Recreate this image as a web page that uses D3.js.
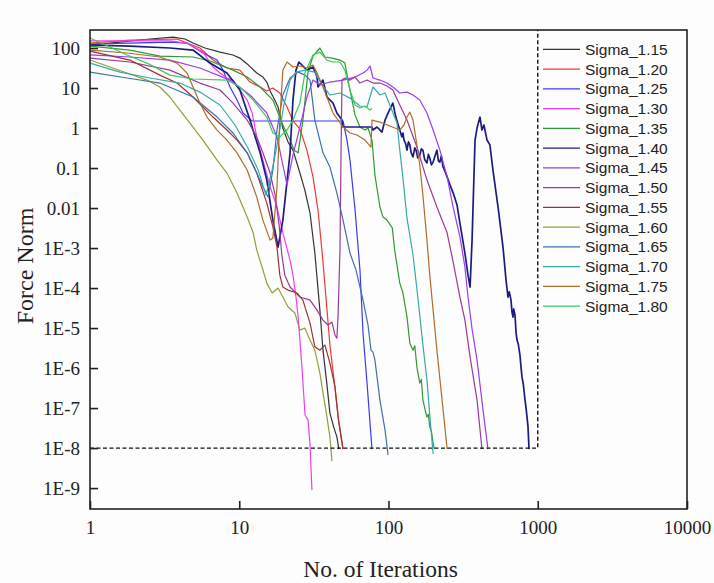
<!DOCTYPE html>
<html><head><meta charset="utf-8">
<script src="https://cdn.jsdelivr.net/npm/d3@7"></script>
<style>
html,body{margin:0;padding:0;background:#fdfdfd;}
svg{display:block;}
</style></head><body>
<svg id="chart" width="714" height="583"></svg>
<script>
// Convergence histories: [iteration, force norm]
const sigmaLabels = ["Sigma_1.15","Sigma_1.20","Sigma_1.25","Sigma_1.30","Sigma_1.35","Sigma_1.40","Sigma_1.45",
  "Sigma_1.50","Sigma_1.55","Sigma_1.60","Sigma_1.65","Sigma_1.70","Sigma_1.75","Sigma_1.80"];

const s115 = [[1,119],[1.59,141],[2.52,168],[3.6,188],[4.33,168],[4.9,133],[5.89,100],[7.43,79],[9.07,67],[10.1,56],
  [11.3,40],[13.1,23.7],[14.4,18.8],[15.3,14.1],[16.1,8.4],[17.3,5.0],[18.2,3.35],[19.6,1.0],[21.2,0.45],[22.9,0.28],
  [25.5,0.075],[27.5,0.028],[29.8,0.0075],[32.1,7.5e-4],[34.7,2.8e-5],[36.4,2.8e-6],[38.7,3.8e-7],[40.5,7.5e-8],
  [43.1,3.2e-8],[45.1,1.9e-8],[46.5,9.4e-9]];
const s120 = [[1,133],[1.85,158],[3.83,168],[5.45,100],[6.67,50],[8.27,31.6],[10.1,28],[11.8,14.1],[13.8,10.6],
  [15.3,8.4],[16.8,10],[18.7,7.5],[20.9,3.35],[22.9,1.5],[25.5,0.94],[28.4,0.28],[31.2,0.06],[33.7,0.0089],
  [35.8,8.9e-4],[37.5,1.2e-4],[40.5,3.8e-6],[43.8,3.2e-7],[46.5,4.5e-8],[49.5,9.4e-9]];
const s125 = [[1,126],[1.85,133],[3.43,141],[4.47,133],[5.71,75],[7.1,50],[7.78,28],[8.67,10.6],[9.66,5.0],[10.6,2.37],
  [12.2,1.5],[25.5,1.5],[49.6,1.5],[52.7,0.5],[55.2,0.158],[59.7,0.0089],[64.4,2.8e-4],[67.5,7.5e-6],[71.8,4.2e-7],
  [75.2,4.2e-8],[77.5,9.4e-9]];
const s130 = [[1,150],[1.85,150],[3.43,150],[4.47,133],[5.71,79],[6.67,33.5],[7.43,23.7],[8.27,17.8],[9.08,15.8],
  [10.1,8.9],[11.3,5.0],[12.2,2.37],[13.1,0.6],[14.4,0.158],[16.1,0.034],[17.9,0.0106],[19.6,2.4e-3],[21.9,5e-4],
  [22.9,2.1e-4],[24.0,6e-5],[24.8,1.9e-5],[26.3,1.06e-6],[27.6,6.7e-8],[28.9,5e-8],[29.8,1.19e-8],[30.7,8.9e-10]];
const s135 = [[1,112],[1.85,89],[2.94,63],[4.9,59.6],[6.36,47.3],[9.08,28],[11.3,18.8],[13.8,10.6],[16.8,5.0],
  [19.6,1.19],[21.9,0.5],[23.3,0.28],[24.8,0.24],[26.7,1.58],[28.9,25],[31.2,63],[34.7,100],[37.5,59.6],[41.8,56],
  [47.3,50],[51,42],[55.2,8.9],[59.7,2.1],[64.4,1.06],[69.6,0.89],[72.9,1.0],[77.5,0.5],[81.1,0.067],[87.6,0.0106],
  [91.8,6e-3],[97.7,5e-3],[106,3.2e-3],[110,8.9e-4],[119,1.33e-4],[125,7.5e-5],[133,1.9e-5],[139,4.2e-6],
  [146,2.8e-6],[150,3.6e-6],[155,1.06e-6],[162,4.2e-7],[166,5.2e-7],[170,1.58e-7],[176,9e-8],[181,5.96e-8],
  [185,7e-8],[189,3.4e-8],[194,2.6e-8],[199,1.33e-8],[203,9.4e-9]];
const s140 = [[1,119],[1.85,112],[3.43,100],[4.9,89],[6.36,42],[8.27,23.7],[10.1,8.9],[11.8,1.58],[13.8,0.24],
  [15.3,0.05],[16.8,0.005],[18.2,1.05e-3],[19.6,0.005],[21.9,0.24],[22.9,5.0],[24.0,28],[25.1,44.7],[26.7,35.5],
  [28.4,28],[31.2,33.5],[33.2,18.8],[33.7,10.6],[36.4,15.8],[38.7,5.96],[42.5,4.2],[45.1,2.37],[48.8,1.58],
  [49.6,1.06],[77.5,1.06],[78.7,0.89],[83.7,1.06],[90.4,0.79],[94.8,1.58],[100,2.5],[107,4.2],[112,1.88],
  [119,0.89],[123,0.6],[125,0.75],[127,0.5],[130,0.42],[133,0.28],[136,0.45],[139,0.38],[142,0.24],[146,0.19],
  [150,0.32],[153,0.28],[157,0.18],[162,0.21],[166,0.3],[170,0.28],[175,0.16],[181,0.134],[185,0.22],[189,0.178],
  [194,0.12],[199,0.141],[205,0.2],[211,0.28],[216,0.15],[221,0.141],[226,0.2],[232,0.106],[240,0.08],[247,0.06],
  [258,0.038],[271,0.024],[288,0.0119],[301,4.2e-3],[325,7.5e-4],[341,2.1e-4],[352,1.06e-4],[363,1.58e-3],
  [380,0.5],[392,1.0],[410,1.88],[423,0.89],[436,1.19],[457,0.5],[478,0.38],[501,0.089],[542,0.0106],
  [585,1.06e-3],[613,1.58e-4],[622,1e-4],[632,5.96e-5],[645,8e-5],[662,5e-5],[672,2.5e-5],[683,1.88e-5],
  [690,3e-5],[704,2.1e-5],[715,8e-6],[726,5e-6],[740,4e-6],[760,2.1e-6],[770,1.2e-6],[784,6e-7],[800,4e-7],
  [822,1.58e-7],[835,1e-7],[847,6e-8],[860,3.5e-8],[874,9.4e-9]];
const s145 = [[1,67],[1.85,59.6],[3.43,50],[5.45,31.6],[8.67,15.8],[11.8,6.7],[15.3,2.37],[17.9,0.6],[19.6,0.119],
  [20.9,0.038],[22.9,0.21],[25.5,1.06],[28.4,5.96],[31.2,15.8],[34.7,11.9],[40.5,14.1],[49.6,15.8],[59.7,18.8],
  [67.5,23.7],[71.8,28],[75.2,35.5],[78.7,17.8],[87.6,15.8],[97.7,13.3],[107,10.6],[119,7.5],[133,7.9],[146,6.7],
  [162,5.0],[181,2.37],[199,0.89],[221,0.28],[247,0.06],[271,0.0106],[301,1.9e-3],[325,3.4e-4],[341,5.96e-5],
  [363,9.4e-6],[392,1.58e-6],[430,8.9e-8],[464,9.4e-9]];
const s150 = [[1,56],[1.85,44.7],[3.43,28],[5.45,13.3],[7.43,8.9],[9.08,4.2],[11.3,1.58],[13.1,0.6],[14.4,0.24],
  [16.1,0.075],[17.4,0.021],[18.5,3.7e-3],[19.3,6.7e-4],[20.2,2.1e-4],[21.9,1.06e-4],[25.5,5.96e-5],[29.8,5e-5],
  [33.2,2.8e-5],[36.4,1.58e-5],[39.3,1.19e-5],[41.8,1.41e-5],[43.8,6.7e-6],[45.1,5.6e-6],[45.9,1.88e-5],
  [47.3,8.9e-4],[48.1,0.28],[48.8,15.8],[51,17.8],[55.2,15.8],[59.7,18.8],[64.4,13.3],[71.8,15.8],[78.7,13.3],
  [87.6,13.3],[97.7,11.2],[107,8.9],[119,3.76],[133,1.58],[155,0.335],[181,0.05],[211,0.0106],[247,2.4e-3],
  [271,4.5e-4],[301,5.96e-5],[325,1.58e-5],[352,1.9e-6],[392,1.58e-7],[423,9.4e-9]];
const s155 = [[1,84],[1.85,50],[2.94,21],[3.83,13.3],[4.9,5.96],[5.71,3.35],[6.67,1.88],[8.27,0.89],[9.66,0.5],
  [11.3,0.24],[13.1,0.075],[15.3,0.0133],[16.8,3.4e-3],[17.9,1.06e-3],[18.7,2.1e-4],[19.6,1.06e-4],[21.2,8.9e-5],
  [24.4,7.5e-5],[26.7,5e-5],[29.8,1.33e-5],[32.1,3.4e-6],[34.7,2.8e-6],[37.5,3.76e-6],[40.5,1.33e-6],
  [43.8,3.4e-7],[45.9,5.96e-8],[49.6,9.4e-9]];
const s160 = [[1,50],[1.77,23.7],[2.41,15.8],[2.94,10.6],[3.43,5.96],[4.0,2.8],[4.9,1.06],[5.71,0.5],[7.1,0.158],
  [8.27,0.075],[9.66,0.0237],[11.3,6e-3],[12.4,2.4e-3],[13.1,8.9e-4],[14.2,3.4e-4],[15.3,1.33e-4],[16.6,7.5e-5],
  [18.2,1.0e-4],[19.6,5.96e-5],[21.2,3.4e-5],[23.6,2.37e-5],[25.5,8.9e-6],[27.5,1.0e-5],[29.8,5e-6],[32.1,2.8e-6],
  [34.7,7.5e-7],[36.4,2.4e-7],[38.7,5.96e-8],[40.5,1.9e-8],[41.8,4.7e-9]];
const s165 = [[1,25],[1.77,17.8],[2.94,13.3],[4.9,5.96],[7.1,1.88],[9.08,0.75],[11.3,0.24],[13.1,0.075],[14.4,0.034],
  [15.6,0.0188],[16.8,0.089],[17.9,0.89],[19.6,6.7],[21.9,17.8],[24.8,25],[27.6,21],[29.8,15.8],[32.1,1.58],
  [36.4,0.24],[40.5,0.106],[45.1,0.0237],[49.6,5e-3],[55.2,7.5e-4],[60.6,2.8e-4],[67.5,5e-5],[72.9,1.19e-5],
  [76.3,2.8e-6],[78.7,2.5e-6],[81.1,1.58e-6],[87.6,1.58e-7],[94.8,2.8e-8],[99.3,6.7e-9]];
const s170 = [[1,42],[1.59,25],[2.52,17.8],[4.0,13.3],[5.45,7.9],[7.43,3.76],[9.37,1.19],[11.4,0.32],[13.4,0.089],
  [15.1,0.021],[16.6,0.089],[18.2,0.5],[19.9,3.76],[21.9,15.8],[24.0,25],[27.6,28],[32.1,25],[35.8,11.9],[40.5,6.7],
  [47.3,7.5],[55.2,5.6],[64.4,3.55],[71.8,3.35],[78.7,10.6],[87.6,6.7],[94.8,7.5],[102,3.76],[114,1.33],[119,0.28],
  [125,0.056],[133,5.6e-3],[146,6.7e-4],[158,5e-5],[170,3.8e-6],[181,5e-7],[189,6.7e-8],[199,7.1e-9]];
const s175 = [[1,89],[1.77,75],[2.94,59.6],[3.83,42],[4.47,23.7],[4.9,10.6],[5.45,4.2],[6.08,1.88],[7.1,0.89],
  [8.27,0.5],[9.66,0.24],[11.3,0.089],[13.1,0.0188],[14.4,5e-3],[16.1,1.58e-3],[16.8,1.78e-3],[17.9,0.034],
  [18.7,1.58],[19.6,28],[20.9,44.7],[22.9,33.5],[25.5,35.5],[28.4,31.6],[31.2,37.6],[33.7,21],[36.4,10.6],
  [42.5,2.37],[49.6,1.06],[55.2,0.75],[61.5,0.67],[69.6,0.5],[76.3,0.335],[77.5,1.58],[87.6,1.41],[119,0.89],
  [127,1.19],[133,1.88],[139,2.5],[146,1.58],[155,0.376],[162,0.119],[170,0.021],[181,1.58e-3],[189,2.1e-4],
  [199,2.8e-5],[211,2.8e-6],[225,2.8e-7],[236,5e-8],[247,9.4e-9]];
const s180 = [[1,178],[1.36,106],[1.77,67],[2.41,42],[3.43,21],[4.9,16.8],[8.27,15.8],[10.1,10.6],[12.4,5.0],
  [15.3,1.88],[16.8,0.75],[18.7,0.6],[20.9,0.89],[22.9,1.58],[25.5,4.2],[27.6,25],[31.2,67],[34.7,79],[38.7,50],
  [42.5,44.7],[47.3,44.7],[51,28],[55.2,8.9],[59.7,3.76],[64.4,3.16],[69.6,3.55],[75.2,2.8],[77.5,3.16]];

const seriesData = [s115,s120,s125,s130,s135,s140,s145,s150,s155,s160,s165,s170,s175,s180];
const seriesColors = ["#333333","#e83c36","#3a3aef","#f03cf0","#2f9a2f","#1c1c80","#9a3cf0","#993a99",
  "#993333","#9a9a3a","#3f6fae","#36aaaa","#ad6c2c","#38cc58"];

const xTicks = [1,10,100,1000,10000];
const xTickLabels = ["1","10","100","1000","10000"];
const yTicks = [1e-9,1e-8,1e-7,1e-6,1e-5,1e-4,1e-3,0.01,0.1,1,10,100];
const yTickLabels = ["1E-9","1E-8","1E-7","1E-6","1E-5","1E-4","1E-3","0.01","0.1","1","10","100"];
const tolerance = 1e-8, iterationCap = 1000;

(function draw() {
  const svg = d3.select("#chart");
  const mLeft = 90, mRight = 687, mTop = 30, mBottom = 509;
  const x = d3.scaleLog().domain([1, 10000]).range([mLeft, mRight]);
  const y = d3.scaleLog().domain([3e-10, 282]).range([mBottom, mTop]);

  // curves
  const line = d3.line().x(d => x(d[0])).y(d => y(d[1]));
  const plot = svg.append("g");
  seriesData.forEach((s, i) => {
    plot.append("path").datum(s)
      .attr("fill", "none")
      .attr("stroke", seriesColors[i])
      .attr("stroke-width", i === 5 ? 1.7 : 1.2)
      .attr("stroke-linejoin", "round")
      .attr("d", line);
  });

  // tolerance / iteration-cap guides
  svg.append("path")
    .attr("d", `M${x(1)},${y(tolerance)}H${x(iterationCap)}V${mTop}`)
    .attr("fill", "none").attr("stroke", "#111").attr("stroke-width", 1.4)
    .attr("stroke-dasharray", "4,2.5");

  // axes
  const serif = "'Liberation Serif','Times New Roman',serif";
  const yAxis = d3.axisLeft(y).tickValues(yTicks).tickFormat((d, i) => yTickLabels[i])
    .tickSizeInner(-8).tickSizeOuter(0).tickPadding(10);
  const xAxis = d3.axisBottom(x).tickValues(xTicks).tickFormat((d, i) => xTickLabels[i])
    .tickSizeInner(-8).tickSizeOuter(0).tickPadding(12);

  const gy = svg.append("g").attr("transform", `translate(${mLeft},0)`).call(yAxis);
  const gx = svg.append("g").attr("transform", `translate(0,${mBottom})`).call(xAxis);
  [gx, gy].forEach(g => {
    g.select(".domain").remove();
    g.selectAll(".tick line").attr("stroke", "#222").attr("stroke-width", 1.6);
    g.selectAll(".tick text").attr("fill", "#222").style("font-family", serif).style("font-size", "19px");
  });

  // frame
  svg.append("rect").attr("x", mLeft).attr("y", mTop).attr("width", mRight - mLeft).attr("height", mBottom - mTop)
    .attr("fill", "none").attr("stroke", "#222").attr("stroke-width", 1.6);

  // titles
  svg.append("text").attr("x", (mLeft + mRight) / 2 - 8).attr("y", 577).attr("text-anchor", "middle")
    .style("font-family", serif).style("font-size", "23.5px").attr("fill", "#222").text("No. of Iterations");
  svg.append("text").attr("transform", "translate(33,266) rotate(-90)").attr("text-anchor", "middle")
    .style("font-family", serif).style("font-size", "24px").attr("fill", "#222").text("Force Norm");

  // legend
  const legend = svg.append("g");
  sigmaLabels.forEach((lab, i) => {
    const ly = 49.3 + i * 19.75;
    legend.append("line").attr("x1", 543).attr("x2", 580).attr("y1", ly).attr("y2", ly)
      .attr("stroke", seriesColors[i]).attr("stroke-width", 1.3);
    legend.append("text").attr("x", 585).attr("y", ly).attr("dy", "0.36em")
      .style("font-family", "'Liberation Sans',Arial,sans-serif").style("font-size", "15.5px")
      .attr("fill", "#222").text(lab);
  });
})();
</script>
</body></html>
